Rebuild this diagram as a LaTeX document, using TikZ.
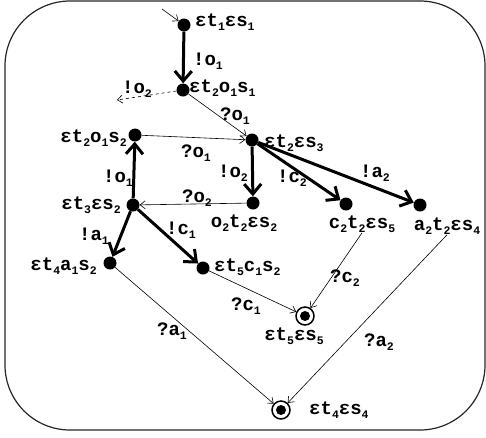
\documentclass[tikz,border=0pt]{standalone}
\usepackage{fontspec}
\setmainfont{Liberation Mono}
\usetikzlibrary{arrows.meta}
\newcommand{\dn}[1]{\raisebox{-0.45ex}{\fontsize{11.5}{12}\selectfont #1}}
\tikzset{
  state/.style={circle,fill=black,inner sep=0pt,minimum size=13pt},
  final/.style={circle,draw,line width=1.5pt,minimum size=18pt,inner sep=0pt,
    path picture={\fill (path picture bounding box.center) circle (5pt);}},
  lbl/.style={font=\bfseries\fontsize{19}{20}\selectfont,inner sep=0pt},
  thk/.style={line width=3pt,-{Straight Barb[length=10pt,width=17pt,line width=3pt]}},
  thn/.style={line width=0.6pt,-{Straight Barb[length=5pt,width=8pt,line width=0.6pt]}},
}
\begin{document}
\begin{tikzpicture}[x=1pt,y=-1pt]
\useasboundingbox (0,0) rectangle (486,437);
\draw[line width=1.2pt,black!85,rounded corners=65pt] (5,1) rectangle (485,430);
% states
\node[state] (A) at (184,25) {};
\node[state] (B) at (183,90) {};
\node[state] (C) at (252,140) {};
\node[state] (D) at (135,135) {};
\node[state] (E) at (253,203) {};
\node[state] (F) at (133,205) {};
\node[state] (G) at (346,204) {};
\node[state] (H) at (420,205) {};
\node[state] (I) at (110,263) {};
\node[state] (J) at (203,268) {};
\node[final] (K) at (305,316) {};
\node[final] (L) at (281,410) {};
\coordinate (init) at (162,9);
\coordinate (out) at (117,100);
% state labels
\node[lbl,anchor=west] (Alab) at (195,22) {εt\dn{1}εs\dn{1}};
\node[lbl,anchor=west] (Blab) at (189,88) {εt\dn{2}o\dn{1}s\dn{1}};
\node[lbl,anchor=west] (Clab) at (264,143) {εt\dn{2}εs\dn{3}};
\node[lbl,anchor=east] (Dlab) at (127,138) {εt\dn{2}o\dn{1}s\dn{2}};
\node[lbl] (Elab) at (244,223) {o\dn{2}t\dn{2}εs\dn{2}};
\node[lbl,anchor=east] (Flab) at (121,205) {εt\dn{3}εs\dn{2}};
\node[lbl] (Glab) at (362,224) {c\dn{2}t\dn{2}εs\dn{5}};
\node[lbl] (Hlab) at (447,226) {a\dn{2}t\dn{2}εs\dn{4}};
\node[lbl,anchor=east] (Ilab) at (97,266) {εt\dn{4}a\dn{1}s\dn{2}};
\node[lbl,anchor=west] (Jlab) at (214,267) {εt\dn{5}c\dn{1}s\dn{2}};
\node[lbl] (Klab) at (294,336) {εt\dn{5}εs\dn{5}};
\node[lbl,anchor=west] (Llab) at (309,410) {εt\dn{4}εs\dn{4}};
% transitions
\draw[thn] (init) -- (A);
\draw[thk] (A) -- (B);
\draw[thn,dashed] (B) -- (out);
\draw[thn] (B) -- (C);
\draw[thn] (D) -- (C);
\draw[thk] (C) -- (E);
\draw[thn] (E) -- (F);
\draw[thk] (F) -- (D);
\draw[thk] (C) -- (G);
\draw[thk] (C) -- (H);
\draw[thk] (F) -- (I);
\draw[thk] (F) -- (J);
\draw[thn] (J) -- (K);
\draw[thn] (Glab.south) -- (K);
\draw[thn] (I) -- (L);
\draw[thn] (Hlab.south) -- (L);
% transition labels
\node[lbl] (t1) at (208,61) {!o\dn{1}};
\node[lbl] (t2) at (137,89) {!o\dn{2}};
\node[lbl] (t3) at (235,116) {?o\dn{1}};
\node[lbl] (t4) at (196,153) {?o\dn{1}};
\node[lbl] (t5) at (233,173) {!o\dn{2}};
\node[lbl] (t6) at (197,198) {?o\dn{2}};
\node[lbl] (t7) at (118,178) {!o\dn{1}};
\node[lbl] (t8) at (292,178) {!c\dn{2}};
\node[lbl] (t9) at (375,173) {!a\dn{2}};
\node[lbl] (t10) at (94,236) {!a\dn{1}};
\node[lbl] (t11) at (181,230) {!c\dn{1}};
\node[lbl] (t12) at (246,306) {?c\dn{1}};
\node[lbl] (t13) at (345,278) {?c\dn{2}};
\node[lbl] (t14) at (172,331) {?a\dn{1}};
\node[lbl] (t15) at (379,342) {?a\dn{2}};
\end{tikzpicture}
\end{document}
